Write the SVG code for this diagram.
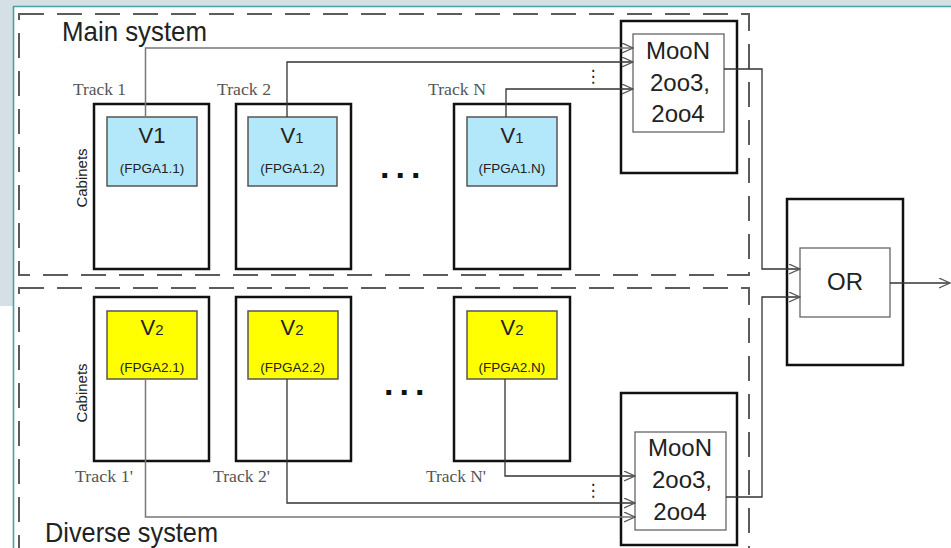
<svg xmlns="http://www.w3.org/2000/svg" width="951" height="548" viewBox="0 0 951 548">
<defs>
<style>
.dash{fill:none;stroke:#5c5c5c;stroke-width:2;stroke-dasharray:25 13}
.cab{fill:#fff;stroke:#111;stroke-width:2.5}
.v1{fill:#b3e8fb;stroke:#555;stroke-width:1.5}
.v2{fill:#ffff00;stroke:#555;stroke-width:1.5}
.inner{fill:#fff;stroke:#666;stroke-width:1.3}
.track{font-family:"Liberation Serif","Times New Roman",serif;font-size:17px;fill:#555}
.sans{font-family:"Liberation Sans",Arial,sans-serif;fill:#222}
.big{font-size:22px;text-anchor:middle}
.small{font-size:13.5px;text-anchor:middle}
.moon{font-size:24px;text-anchor:middle}
.title{font-size:28px}
.cabtxt{font-size:15px;text-anchor:middle}
.conn{fill:none;stroke:#333;stroke-width:1.3}
.connl{fill:none;stroke:#777;stroke-width:1.5}
.dots{font-family:"Liberation Sans",Arial,sans-serif;font-weight:bold;font-size:34px;fill:#111;letter-spacing:6px}
.vdots{font-family:"DejaVu Sans",sans-serif;font-size:17px;fill:#222;text-anchor:middle}
</style>
<marker id="arr" markerWidth="12" markerHeight="12" refX="11" refY="5" orient="auto" markerUnits="userSpaceOnUse">
<path d="M0,0 L11,5 L0,10" fill="none" stroke="#555" stroke-width="1.2"/>
</marker>
</defs>

<!-- page background -->
<rect x="0" y="0" width="951" height="548" fill="#ffffff"/>
<rect x="0" y="0" width="951" height="6" fill="#d5e0e6"/>
<rect x="0" y="0" width="13" height="306" fill="#d5e0e6"/>
<line x1="13" y1="6.5" x2="951" y2="6.5" stroke="#4a9ea6" stroke-width="1.6"/>
<line x1="13.5" y1="6" x2="13.5" y2="548" stroke="#4a9ea6" stroke-width="1.6"/>

<!-- system boundaries -->
<g id="main-system">
<rect class="dash" x="19" y="14" width="730" height="261"/>
<text class="sans title" x="62" y="41" textLength="145" lengthAdjust="spacingAndGlyphs">Main system</text>
</g>
<g id="diverse-system">
<rect class="dash" x="19" y="288" width="730" height="280"/>
<text class="sans title" x="45" y="542" textLength="173" lengthAdjust="spacingAndGlyphs">Diverse system</text>
</g>

<!-- main cabinets -->
<g id="cabinet-1-1">
<rect class="cab" x="94" y="104" width="115" height="165"/>
<rect class="v1" x="107" y="117" width="90" height="69"/>
<text class="sans big" x="152" y="143">V1</text>
<text class="sans small" x="152" y="173">(FPGA1.1)</text>
<text class="sans cabtxt" transform="translate(87,178) rotate(-90)">Cabinets</text>
<text class="track" x="73" y="95" textLength="53" lengthAdjust="spacingAndGlyphs">Track 1</text>
</g>
<g id="cabinet-1-2">
<rect class="cab" x="236" y="104" width="115" height="165"/>
<rect class="v1" x="248" y="117" width="89" height="69"/>
<text class="sans big" x="292" y="143">V<tspan font-size="15px">1</tspan></text>
<text class="sans small" x="292.5" y="173">(FPGA1.2)</text>
<text class="track" x="217" y="95" textLength="54" lengthAdjust="spacingAndGlyphs">Track 2</text>
</g>
<g id="cabinet-1-n">
<rect class="cab" x="454" y="104" width="116" height="165"/>
<rect class="v1" x="467" y="117" width="90" height="69"/>
<text class="sans big" x="512" y="143">V<tspan font-size="15px">1</tspan></text>
<text class="sans small" x="512" y="173">(FPGA1.N)</text>
<text class="track" x="428" y="95" textLength="58" lengthAdjust="spacingAndGlyphs">Track N</text>
</g>
<text class="dots" x="380" y="178">...</text>

<!-- diverse cabinets -->
<g id="cabinet-2-1">
<rect class="cab" x="94" y="297" width="115" height="164"/>
<rect class="v2" x="107" y="311" width="90" height="68"/>
<text class="sans big" x="152" y="335">V<tspan font-size="15px">2</tspan></text>
<text class="sans small" x="152" y="372">(FPGA2.1)</text>
<text class="sans cabtxt" transform="translate(87,393) rotate(-90)">Cabinets</text>
<text class="track" x="75" y="482" textLength="58" lengthAdjust="spacingAndGlyphs">Track 1'</text>
</g>
<g id="cabinet-2-2">
<rect class="cab" x="236" y="297" width="115" height="164"/>
<rect class="v2" x="248" y="311" width="90" height="68"/>
<text class="sans big" x="292" y="335">V<tspan font-size="15px">2</tspan></text>
<text class="sans small" x="292.5" y="372">(FPGA2.2)</text>
<text class="track" x="213" y="482" textLength="57" lengthAdjust="spacingAndGlyphs">Track 2'</text>
</g>
<g id="cabinet-2-n">
<rect class="cab" x="454" y="297" width="116" height="164"/>
<rect class="v2" x="467" y="311" width="90" height="68"/>
<text class="sans big" x="512" y="335">V<tspan font-size="15px">2</tspan></text>
<text class="sans small" x="512" y="372">(FPGA2.N)</text>
<text class="track" x="426" y="482" textLength="60" lengthAdjust="spacingAndGlyphs">Track N'</text>
</g>
<text class="dots" x="384" y="395">...</text>

<!-- voters -->
<g id="voter-main">
<rect class="cab" x="621" y="21" width="116" height="152"/>
<rect class="inner" x="633" y="34" width="91" height="98"/>
<text class="sans moon" x="678" y="59">MooN</text>
<text class="sans moon" x="680" y="91">2oo3,</text>
<text class="sans moon" x="678" y="122">2oo4</text>
</g>
<g id="voter-diverse">
<rect class="cab" x="621" y="393" width="116" height="152"/>
<rect class="inner" x="635" y="432" width="91" height="98"/>
<text class="sans moon" x="680" y="456">MooN</text>
<text class="sans moon" x="682" y="488">2oo3,</text>
<text class="sans moon" x="680" y="520">2oo4</text>
</g>
<g id="or-gate">
<rect class="cab" x="787" y="199" width="116" height="166"/>
<rect class="inner" x="800" y="248" width="90" height="69"/>
<text class="sans moon" x="845" y="290">OR</text>
</g>

<!-- connectors -->
<g id="connectors">
<polyline class="connl" points="145.5,117 145.5,48 633,48" marker-end="url(#arr)"/>
<polyline class="conn" points="287,117 287,62 633,62" marker-end="url(#arr)"/>
<polyline class="conn" points="506,117 506,89 633,89" marker-end="url(#arr)"/>
<text class="vdots" x="593" y="82">⋮</text>
<polyline class="connl" points="145.5,379 145.5,517 635,517" marker-end="url(#arr)"/>
<polyline class="conn" points="287,379 287,503 635,503" marker-end="url(#arr)"/>
<polyline class="conn" points="505,379 505,476 635,476" marker-end="url(#arr)"/>
<text class="vdots" x="593" y="496">⋮</text>
<polyline class="conn" points="724,69 762,69 762,269 800,269" marker-end="url(#arr)"/>
<polyline class="conn" points="726,497 762,497 762,297 800,297" marker-end="url(#arr)"/>
<polyline class="conn" points="890,283 950,283" marker-end="url(#arr)"/>
</g>
</svg>
